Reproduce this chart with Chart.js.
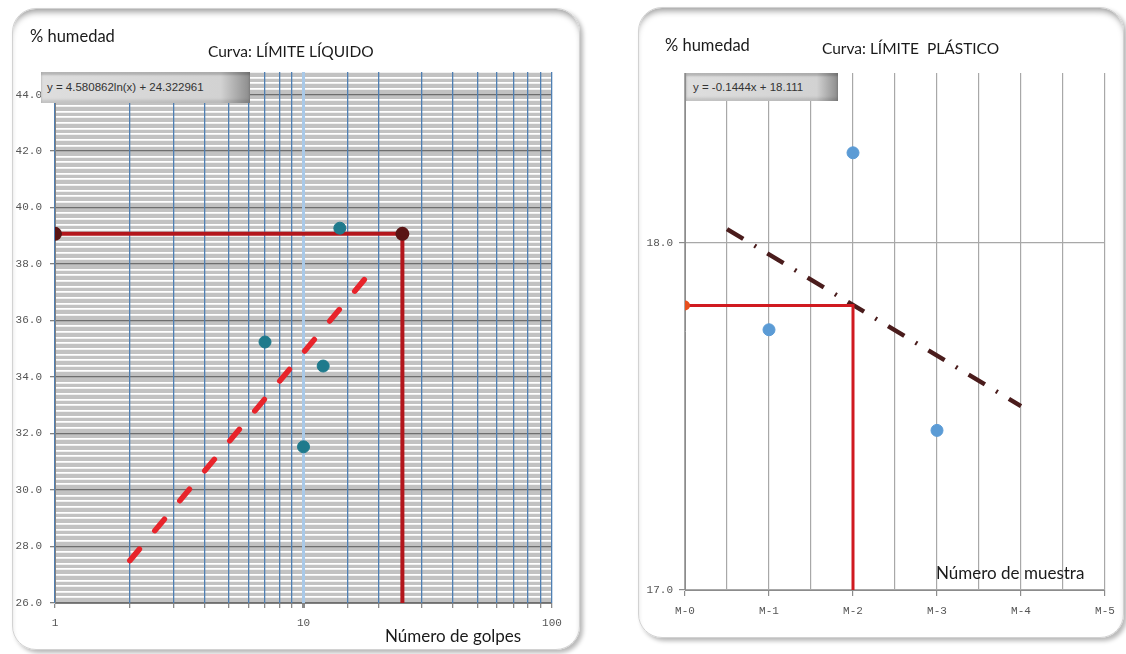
<!DOCTYPE html>
<html>
<head>
<meta charset="utf-8">
<script src="https://cdn.jsdelivr.net/npm/chart.js@4.4.0/dist/chart.umd.min.js"></script>
<style>
    body { margin: 0; width: 1126px; height: 654px; background: #fff; position: relative; overflow: hidden; }
    .frame { position: absolute; border: 1px solid #d2d2d2; border-radius: 24px;
             box-shadow: 3px 3px 4px rgba(0,0,0,0.28), inset 0 6px 6px -3px rgba(0,0,0,0.38); }
    .box { position: absolute; }
    .txt { position: absolute; white-space: nowrap; line-height: 1; color: #1a1a1a; font-family: Lato, sans-serif; font-size: 15.5px; }
    .eq { position: absolute; white-space: nowrap; font-family: 'Liberation Sans', sans-serif; font-size: 11.5px; color: #333;
          background: linear-gradient(to right, #dedede 0%, #d2d2d2 86%, #8c8c8c 100%);
          box-shadow: inset 0 -3px 3px rgba(0,0,0,0.12), inset 0 3px 2px rgba(0,0,0,0.18); box-sizing: border-box; }
</style>
</head>
<body>
<div class="frame" style="left:12px; top:8px; width:566px; height:640px;"></div>
<div class="frame" style="left:638px; top:7px; width:484px; height:629px;"></div>

<div class="box" style="left:0; top:0;"><canvas id="ll-chart" width="580" height="654"></canvas></div>
<div class="box" style="left:580px; top:0;"><canvas id="lp-chart" width="546" height="654"></canvas></div>

<div class="txt" style="left:30px; top:28px; font-size:16.5px;">% humedad</div>
<div class="txt" style="left:208px; top:44px;">Curva: LÍMITE LÍQUIDO</div>
<div class="txt" style="left:385px; top:627px; font-size:17px;">Número de golpes</div>
<div class="eq" style="left:41px; top:72px; width:209px; height:31px; padding:9px 0 0 6px;">y = 4.580862ln(x) + 24.322961</div>

<div class="txt" style="left:665px; top:37px; font-size:16.5px;">% humedad</div>
<div class="txt" style="left:822px; top:41px;">Curva: LÍMITE&nbsp;&nbsp;PLÁSTICO</div>
<div class="txt" style="left:936px; top:564px; font-size:17px;">Número de muestra</div>
<div class="eq" style="left:686px; top:73px; width:152px; height:28px; padding:8px 0 0 7px;">y = -0.1444x + 18.111</div>

<script>
// Límite líquido
var golpes = [14, 7, 12, 10];
var humedad_ll = [39.27, 35.24, 34.39, 31.53];
var ll_guia_x = [1, 25, 25];
var ll_guia_y = [39.07, 39.07, 26];
var ll_tend_x = [2, 18];
var ll_tend_y = [27.5, 37.56];
var ll_ticks_x = [1, 10, 100];
var ll_ticks_y = [26, 28, 30, 32, 34, 36, 38, 40, 42, 44];

// Límite plástico
var muestras = ['M-0', 'M-1', 'M-2', 'M-3', 'M-4', 'M-5'];
var muestra_idx = [1, 2, 3];
var humedad_lp = [17.75, 18.26, 17.46];
var lp_guia_x = [0, 2, 2];
var lp_guia_y = [17.82, 17.82, 17.0];
var lp_tend_x = [0.5, 4];
var lp_tend_y = [18.04, 17.53];
var lp_ticks_y = [17, 18];

const pts = (xs, ys) => xs.map((x, i) => ({ x: x, y: ys[i] }));
const isMajor = (v, list) => list.some(t => Math.abs(t - v) < 1e-6);

const plotBg = {
    id: 'plotBg',
    beforeDraw(chart, args, opts) {
        if (!opts.color) return;
        const a = chart.chartArea;
        chart.ctx.save();
        chart.ctx.fillStyle = opts.color;
        chart.ctx.fillRect(a.left, a.top, a.right - a.left, a.bottom - a.top);
        chart.ctx.restore();
    }
};

const tickFont = { family: 'Liberation Mono, monospace', size: 11 };

new Chart(document.getElementById('ll-chart'), {
    type: 'scatter',
    plugins: [plotBg],
    data: {
        datasets: [{
            data: pts(golpes, humedad_ll),
            backgroundColor: '#1f7a8c',
            borderColor: '#1f7a8c',
            pointRadius: 6
        }, {
            data: pts(ll_guia_x, ll_guia_y),
            showLine: true,
            borderColor: '#b3161c',
            borderWidth: 4,
            pointRadius: [5, 5, 0],
            pointBackgroundColor: '#5a1414',
            pointBorderColor: '#5a1414'
        }, {
            data: pts(ll_tend_x, ll_tend_y),
            showLine: true,
            borderColor: '#e8242b',
            borderWidth: 5.5,
            borderDash: [15, 24],
            borderCapStyle: 'round',
            pointRadius: 0
        }]
    },
    options: {
        responsive: false,
        animation: false,
        layout: { padding: { left: 0, top: 72, right: 28, bottom: 0 } },
        plugins: { legend: { display: false }, tooltip: { enabled: false }, plotBg: { color: '#c2c2c2' } },
        scales: {
            x: {
                type: 'logarithmic',
                min: 1,
                max: 100,
                afterFit: (s) => { s.height = 51; },
                border: { color: '#808080' },
                grid: {
                    z: 0,
                    color: (c) => c.tick && c.tick.value === 10 ? '#a9c9e8' : '#4f7fb3',
                    lineWidth: (c) => c.tick && c.tick.value === 10 ? 3 : 1.3,
                    tickColor: '#8a8a8a',
                    tickLength: 5
                },
                ticks: {
                    autoSkip: false,
                    maxRotation: 0,
                    padding: 8,
                    color: '#555',
                    font: tickFont,
                    callback: (v) => isMajor(v, ll_ticks_x) ? String(v) : ''
                }
            },
            y: {
                min: 26,
                max: 44.8,
                afterFit: (s) => { s.width = 55; },
                border: { color: '#808080' },
                grid: {
                    color: (c) => c.tick && isMajor(c.tick.value, ll_ticks_y) ? '#6e6e6e' : '#ffffff',
                    lineWidth: (c) => c.tick && isMajor(c.tick.value, ll_ticks_y) ? 1.3 : 1.8,
                    tickColor: (c) => c.tick && isMajor(c.tick.value, ll_ticks_y) ? '#808080' : 'rgba(0,0,0,0)',
                    tickLength: 5
                },
                ticks: {
                    stepSize: 0.2,
                    autoSkip: false,
                    padding: 8,
                    color: '#555',
                    font: tickFont,
                    callback: (v) => isMajor(v, ll_ticks_y) ? v.toFixed(1) : ''
                }
            }
        }
    }
});

new Chart(document.getElementById('lp-chart'), {
    type: 'scatter',
    plugins: [plotBg],
    data: {
        datasets: [{
            data: pts(muestra_idx, humedad_lp),
            backgroundColor: '#5b9bd5',
            borderColor: '#5b9bd5',
            pointRadius: 6
        }, {
            data: pts(lp_guia_x, lp_guia_y),
            showLine: true,
            borderColor: '#d01a20',
            borderWidth: 3,
            pointRadius: [3.5, 0, 0],
            pointBackgroundColor: '#e8501e',
            pointBorderColor: '#e8501e'
        }, {
            data: pts(lp_tend_x, lp_tend_y),
            showLine: true,
            borderColor: '#4a1c1c',
            borderWidth: 4.5,
            borderDash: [19, 13, 2, 13],
            borderCapStyle: 'butt',
            pointRadius: 0
        }]
    },
    options: {
        responsive: false,
        animation: false,
        layout: { padding: { left: 0, top: 73, right: 21, bottom: 0 } },
        plugins: { legend: { display: false }, tooltip: { enabled: false } },
        scales: {
            x: {
                type: 'linear',
                min: 0,
                max: 5,
                afterFit: (s) => { s.height = 64; },
                border: { color: '#8c8c8c' },
                grid: {
                    color: '#a8a8a8',
                    lineWidth: 1.2,
                    tickColor: (c) => c.tick && Number.isInteger(c.tick.value) ? '#8c8c8c' : 'rgba(0,0,0,0)',
                    tickLength: 6
                },
                ticks: {
                    stepSize: 0.5,
                    autoSkip: false,
                    maxRotation: 0,
                    padding: 8,
                    color: '#555',
                    font: { family: 'Liberation Mono, monospace', size: 11 },
                    callback: (v) => Number.isInteger(v) ? muestras[v] : ''
                }
            },
            y: {
                min: 17,
                max: 18.49,
                afterFit: (s) => { s.width = 105; },
                afterBuildTicks: (s) => { s.ticks = s.ticks.filter(t => isMajor(t.value, lp_ticks_y)); },
                border: { color: '#8c8c8c' },
                grid: {
                    color: '#a8a8a8',
                    lineWidth: 1.2,
                    tickColor: '#8c8c8c',
                    tickLength: 6
                },
                ticks: {
                    stepSize: 1,
                    padding: 6,
                    color: '#555',
                    font: { family: 'Liberation Mono, monospace', size: 11 },
                    callback: (v) => v.toFixed(1)
                }
            }
        }
    }
});
</script>
</body>
</html>
